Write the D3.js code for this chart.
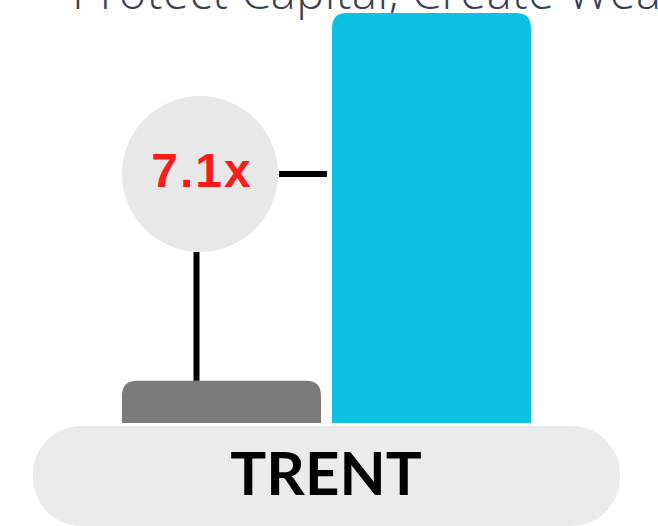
<!DOCTYPE html>
<html>
<head>
<meta charset="utf-8">
<script src="https://cdn.jsdelivr.net/npm/d3@7"></script>
<style>
  html, body { margin: 0; padding: 0; background: #fff; }
  svg { display: block; }
</style>
</head>
<body>
<svg></svg>
<script>
// chart values
var barNames = ["Base", "TRENT"];
var barValues = [1, 7.1];
var barColors = ["#7a7a7a", "#0dc1e0"];
var multipleLabel = "7.1x";
var stockLabel = "TRENT";
var headline = "Protect Capital, Create Wealth";

var width = 658,
    height = 526;

var svg = d3.select("svg")
    .attr("width", width)
    .attr("height", height);

var x = d3.scaleBand()
    .domain(barNames)
    .range([122, 531])
    .paddingInner(0.0524)
    .paddingOuter(0);

var y = d3.scaleLinear()
    .domain([0, 7.1])
    .range([441, 13]);

// path with only the top corners rounded
function topRounded(x0, y0, w, h, r) {
    r = Math.min(r, h, w / 2);
    return "M" + x0 + "," + (y0 + h) +
        "V" + (y0 + r) +
        "Q" + x0 + "," + y0 + " " + (x0 + r) + "," + y0 +
        "H" + (x0 + w - r) +
        "Q" + (x0 + w) + "," + y0 + " " + (x0 + w) + "," + (y0 + r) +
        "V" + (y0 + h) + "Z";
}

// headline, mostly cut off at the top
svg.append("text")
    .attr("x", 72)
    .attr("y", 9)
    .attr("font-family", "'Open Sans', Lato, sans-serif")
    .attr("font-weight", 300)
    .attr("font-size", 47)
    .attr("letter-spacing", 0.5)
    .attr("fill", "#3a3f50")
    .text(headline);

var data = barNames.map(function (d, i) {
    return { name: d, value: barValues[i], color: barColors[i] };
});

svg.selectAll(".bar")
    .data(data)
    .enter().append("path")
    .attr("class", "bar")
    .attr("fill", function (d) { return d.color; })
    .attr("d", function (d) {
        return topRounded(x(d.name), y(d.value), x.bandwidth(), y(0) - y(d.value), 15);
    });

// label pill over the bar bases, white edge leaves a gap under the bars
svg.append("rect")
    .attr("x", 31.5)
    .attr("y", 424.5)
    .attr("width", 590)
    .attr("height", 103)
    .attr("rx", 50)
    .attr("ry", 50)
    .attr("fill", "#ebebeb")
    .attr("stroke", "#fff")
    .attr("stroke-width", 3);

svg.append("text")
    .attr("x", 326)
    .attr("y", 495)
    .attr("text-anchor", "middle")
    .attr("font-family", "Lato, 'Open Sans', sans-serif")
    .attr("font-weight", 700)
    .attr("font-size", 60)
    .attr("fill", "#000")
    .text(stockLabel);

// bubble with the multiple
var cx = x(barNames[0]) + 78,
    cy = 174,
    r = 78;

svg.append("line")
    .attr("x1", cx - 3.5).attr("x2", cx - 3.5)
    .attr("y1", cy + r)
    .attr("y2", y(barValues[0]))
    .attr("stroke", "#000")
    .attr("stroke-width", 6);

svg.append("line")
    .attr("x1", cx + r + 1)
    .attr("x2", x(barNames[1]) - 5)
    .attr("y1", cy).attr("y2", cy)
    .attr("stroke", "#000")
    .attr("stroke-width", 6);

svg.append("circle")
    .attr("cx", cx)
    .attr("cy", cy)
    .attr("r", r)
    .attr("fill", "#e8e8e8");

svg.append("text")
    .attr("x", cx + 2)
    .attr("y", 187)
    .attr("text-anchor", "middle")
    .attr("font-family", "'Liberation Sans', Arial, sans-serif")
    .attr("font-weight", 700)
    .attr("font-size", 48)
    .attr("letter-spacing", 2)
    .attr("fill", "#ff1a1a")
    .text(multipleLabel);
</script>
</body>
</html>
